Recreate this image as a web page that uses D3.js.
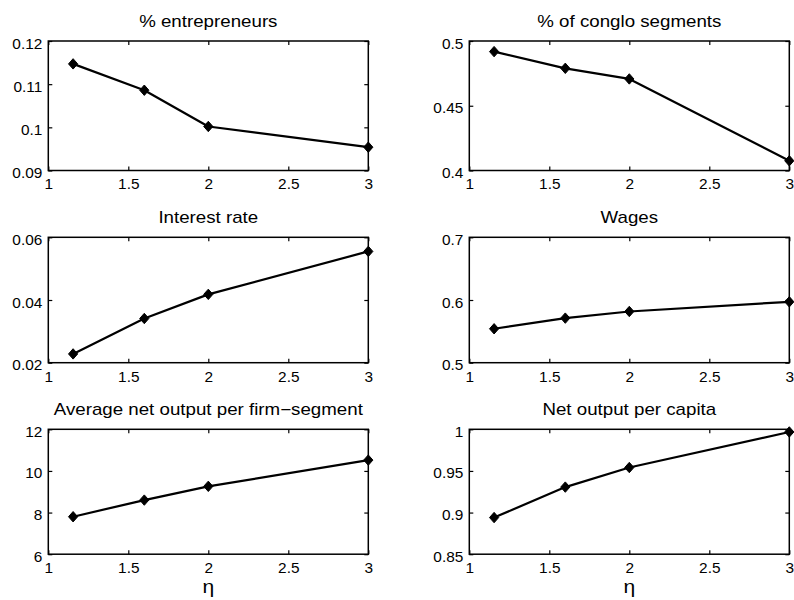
<!DOCTYPE html>
<html>
<head>
<meta charset="utf-8">
<script src="https://cdn.jsdelivr.net/npm/d3@7"></script>
<style>
  html, body { margin: 0; padding: 0; background: #fff; }
  svg { display: block; font-family: "Liberation Sans", Arial, Helvetica, sans-serif; }
</style>
</head>
<body>
<svg id="fig" width="794" height="600"></svg>
<script>
// Elasticity parameter eta on the horizontal axis
const eta = [1.155, 1.6, 2, 3];
const xTicks = [1, 1.5, 2, 2.5, 3];

// Panel series
const entrepreneurs = [0.1147, 0.1086, 0.1002, 0.0954];
const congloSegments = [0.4918, 0.4789, 0.4707, 0.4075];
const interestRate = [0.0228, 0.0341, 0.0418, 0.0555];
const wages = [0.5541, 0.5711, 0.5817, 0.5971];
const avgNetOutput = [7.80, 8.60, 9.26, 10.52];
const netOutputPerCapita = [0.894, 0.9306, 0.9541, 0.9968];

// Panel titles and y ticks
const titles = ["% entrepreneurs", "% of conglo segments", "Interest rate", "Wages",
                "Average net output per firm\u2212segment", "Net output per capita"];
const yTicks1 = [0.09, 0.1, 0.11, 0.12];
const yTicks2 = [0.4, 0.45, 0.5];
const yTicks3 = [0.02, 0.04, 0.06];
const yTicks4 = [0.5, 0.6, 0.7];
const yTicks5 = [6, 8, 10, 12];
const yTicks6 = [0.85, 0.9, 0.95, 1];
const xLabel = "\u03b7";

const series = [entrepreneurs, congloSegments, interestRate, wages, avgNetOutput, netOutputPerCapita];
const yTickSets = [yTicks1, yTicks2, yTicks3, yTicks4, yTicks5, yTicks6];

// Layout of the 3x2 grid of axes
const cols = [[48.3, 368.3], [469.3, 789.3]];
const rows = [[41, 170.5], [237.3, 362.7], [429.3, 554.2]];
const TICK_SX = 1.1, TITLE_SX = 1.17;

const svg = d3.select("#fig");
const fmt = v => String(+v.toFixed(4));

series.forEach((vals, i) => {
  const c = cols[i % 2], r = rows[Math.floor(i / 2)];
  const yt = yTickSets[i];
  const x = d3.scaleLinear().domain([1, 3]).range(c);
  const y = d3.scaleLinear().domain([yt[0], yt[yt.length - 1]]).range([r[1], r[0]]);
  const g = svg.append("g");

  // bottom axis with labels
  const gb = g.append("g").attr("transform", `translate(0,${r[1]})`)
    .call(d3.axisBottom(x).tickValues(xTicks).tickSize(-4).tickPadding(9).tickFormat(fmt));
  // left axis with labels
  const gl = g.append("g").attr("transform", `translate(${c[0]},0)`)
    .call(d3.axisLeft(y).tickValues(yt).tickSize(-4).tickPadding(6).tickFormat(fmt));
  // top and right ticks (box style)
  const gt = g.append("g").attr("transform", `translate(0,${r[0]})`)
    .call(d3.axisTop(x).tickValues(xTicks).tickSize(-4).tickFormat(""));
  const gr = g.append("g").attr("transform", `translate(${c[1]},0)`)
    .call(d3.axisRight(y).tickValues(yt).tickSize(-4).tickFormat(""));

  [gb, gl, gt, gr].forEach(a => {
    a.select(".domain").remove();
    a.selectAll("line").attr("stroke", "#000").attr("stroke-width", 1.2);
  });
  gb.selectAll("text").attr("font-size", 14).attr("fill", "#000")
    .attr("transform", `scale(${TICK_SX},1)`);
  gl.selectAll("text").attr("font-size", 14).attr("fill", "#000")
    .attr("dy", "0.5em").attr("x", -6 / TICK_SX)
    .attr("transform", `scale(${TICK_SX},1)`);
  g.selectAll("g").attr("font-family", null);

  // axes box
  g.append("rect")
    .attr("x", c[0]).attr("y", r[0])
    .attr("width", c[1] - c[0]).attr("height", r[1] - r[0])
    .attr("fill", "none").attr("stroke", "#000").attr("stroke-width", 1.5);

  // title
  g.append("text")
    .attr("transform", `translate(${(c[0] + c[1]) / 2},${r[0] - 14}) scale(${TITLE_SX},1)`)
    .attr("text-anchor", "middle").attr("font-size", 16).attr("fill", "#000")
    .text(titles[i]);

  // data line
  const pts = vals.map((v, k) => [eta[k], v]);
  g.append("path")
    .attr("d", d3.line().x(d => x(d[0])).y(d => y(d[1]))(pts))
    .attr("fill", "none").attr("stroke", "#000").attr("stroke-width", 2.2)
    .attr("stroke-linejoin", "round");

  // diamond markers
  g.selectAll(".mk").data(pts).join("path")
    .attr("transform", d => `translate(${x(d[0])},${y(d[1])})`)
    .attr("d", "M0,-5.2L4.6,0L0,5.2L-4.6,0Z")
    .attr("fill", "#000").attr("stroke", "#000").attr("stroke-width", 1);

  // x label on bottom row
  if (Math.floor(i / 2) === 2) {
    g.append("text")
      .attr("transform", `translate(${(c[0] + c[1]) / 2},${r[1] + 38.5}) scale(${TITLE_SX},1)`)
      .attr("text-anchor", "middle").attr("font-size", 18).attr("fill", "#000")
      .text(xLabel);
  }
});
</script>
</body>
</html>
